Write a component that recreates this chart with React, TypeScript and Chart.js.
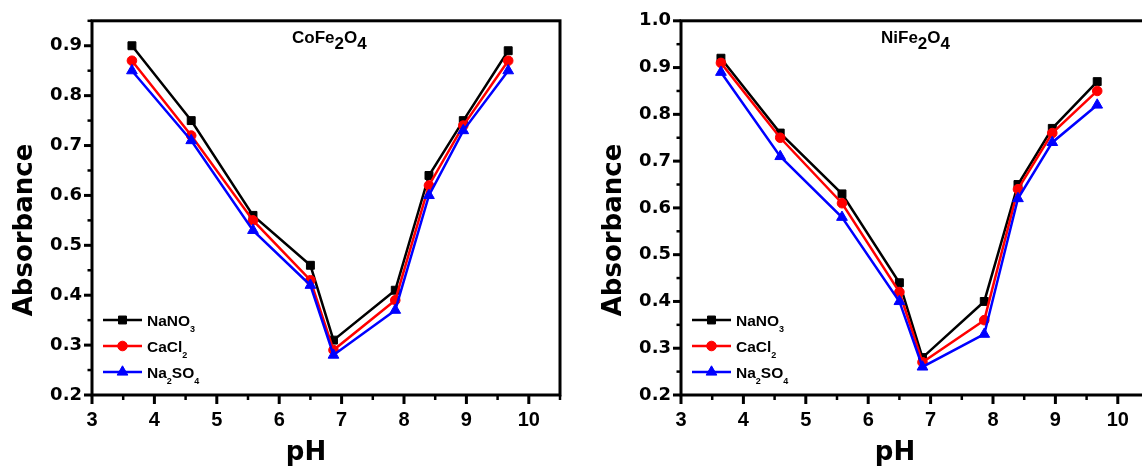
import React, { useEffect, useRef } from "react";
import { Chart, registerables } from "chart.js";

Chart.register(...registerables);

// ---------- data ----------
const PH = [3.64, 4.59, 5.58, 6.5, 6.87, 7.86, 8.4, 8.95, 9.67];
const SERIES_NAMES = ["NaNO3", "CaCl2", "Na2SO4"];
const SERIES_COLORS = ["#000000", "#ff0000", "#0000ff"];
const SERIES_STYLES = ["rect", "circle", "triangle"];

const CO_TITLE = "CoFe2O4";
const CO_NANO3 = [0.9, 0.75, 0.56, 0.46, 0.31, 0.41, 0.64, 0.75, 0.89];
const CO_CACL2 = [0.87, 0.72, 0.55, 0.43, 0.29, 0.39, 0.62, 0.74, 0.87];
const CO_NA2SO4 = [0.85, 0.71, 0.53, 0.42, 0.28, 0.37, 0.6, 0.73, 0.85];

const NI_TITLE = "NiFe2O4";
const NI_NANO3 = [0.92, 0.76, 0.63, 0.44, 0.28, 0.4, 0.65, 0.77, 0.87];
const NI_CACL2 = [0.91, 0.75, 0.61, 0.42, 0.27, 0.36, 0.64, 0.76, 0.85];
const NI_NA2SO4 = [0.89, 0.71, 0.58, 0.4, 0.26, 0.33, 0.62, 0.74, 0.82];

const X_MIN = 3;
const X_MAX = 10.5;
const Y_MIN = 0.2;
const CO_Y_MAX = 0.95;
const NI_Y_MAX = 1.0;
const X_TITLE = "pH";
const Y_TITLE = "Absorbance";

// ---------- helpers ----------
const SANS = "'Liberation Sans', Arial, sans-serif";
const WIDE = "'DejaVu Sans', sans-serif";

function parseRich(s: string): [string, boolean][] {
  const out: [string, boolean][] = [];
  const parts = s.match(/(\d+|\D+)/g) || [];
  for (const p of parts) out.push([p, /\d/.test(p)]);
  return out;
}

function drawRich(
  ctx: CanvasRenderingContext2D,
  text: string,
  x: number,
  y: number,
  size: number,
  subSize: number,
  subDy: number
) {
  let cx = x;
  ctx.textAlign = "left";
  ctx.textBaseline = "alphabetic";
  for (const [t, sub] of parseRich(text)) {
    ctx.font = `bold ${sub ? subSize : size}px ${SANS}`;
    ctx.fillText(t, cx, sub ? y + subDy : y);
    cx += ctx.measureText(t).width;
  }
}

function drawMarker(
  ctx: CanvasRenderingContext2D,
  style: string,
  x: number,
  y: number,
  r: number,
  color: string
) {
  ctx.save();
  ctx.fillStyle = color;
  ctx.strokeStyle = color;
  ctx.lineWidth = 1;
  ctx.beginPath();
  if (style === "rect") {
    const s = r * Math.SQRT1_2;
    ctx.rect(x - s, y - s, 2 * s, 2 * s);
  } else if (style === "circle") {
    ctx.arc(x, y, r, 0, Math.PI * 2);
  } else {
    let rad = 0;
    ctx.moveTo(x + Math.sin(rad) * r, y - Math.cos(rad) * r);
    rad += (2 * Math.PI) / 3;
    ctx.lineTo(x + Math.sin(rad) * r, y - Math.cos(rad) * r);
    rad += (2 * Math.PI) / 3;
    ctx.lineTo(x + Math.sin(rad) * r, y - Math.cos(rad) * r);
    ctx.closePath();
  }
  ctx.fill();
  ctx.stroke();
  ctx.restore();
}

const RADII = [5.6, 4.8, 6.2];

type PanelProps = {
  pageLeft: number;
  axisWidth: number;
  plotRight: number;
  title: string;
  series: number[][];
  yMax: number;
};

const W = 580;
const H = 467;
const PLOT_TOP = 17;
const PLOT_BOTTOM = 395;

function Panel({ pageLeft, axisWidth, plotRight, title, series, yMax }: PanelProps) {
  const ref = useRef<HTMLCanvasElement>(null);

  useEffect(() => {
    if (!ref.current) return;

    const decor = {
      id: "decor",
      afterDraw(chart: any) {
        const ctx: CanvasRenderingContext2D = chart.ctx;
        const a = chart.chartArea;
        const xs = chart.scales.x;
        const ys = chart.scales.y;
        ctx.save();
        ctx.strokeStyle = "#000";
        ctx.fillStyle = "#000";

        // ticks (outward)
        ctx.lineCap = "butt";
        for (let i = 0; X_MIN + i * 0.5 <= X_MAX + 1e-9; i++) {
          const v = X_MIN + i * 0.5;
          const major = i % 2 === 0;
          const px = xs.getPixelForValue(v);
          ctx.lineWidth = major ? 3 : 2.5;
          ctx.beginPath();
          ctx.moveTo(px, a.bottom);
          ctx.lineTo(px, a.bottom + (major ? 9 : 5));
          ctx.stroke();
        }
        for (let i = 0; Y_MIN + i * 0.05 <= yMax + 1e-9; i++) {
          const v = Y_MIN + i * 0.05;
          const major = i % 2 === 0;
          const py = ys.getPixelForValue(v);
          ctx.lineWidth = major ? 3 : 2.5;
          ctx.beginPath();
          ctx.moveTo(a.left, py);
          ctx.lineTo(a.left - (major ? 8 : 4.5), py);
          ctx.stroke();
        }

        // frame
        ctx.lineWidth = 3;
        ctx.strokeRect(a.left, a.top, a.right - a.left, a.bottom - a.top);

        // axis titles
        ctx.font = `bold 26px ${WIDE}`;
        ctx.textAlign = "center";
        ctx.textBaseline = "alphabetic";
        ctx.fillText(X_TITLE, a.left + 214, 460);
        ctx.save();
        ctx.translate(a.left - 69 + 9, 230);
        ctx.rotate(-Math.PI / 2);
        ctx.fillText(Y_TITLE, 0, 0);
        ctx.restore();

        // panel title
        drawRich(ctx, title, a.left + 200, 42.5, 17, 17, 6);

        // legend
        const rows = [320, 346, 372];
        chart.data.datasets.forEach((ds: any, i: number) => {
          const y = rows[i];
          const x0 = a.left + 11;
          const x1 = a.left + 50;
          ctx.strokeStyle = SERIES_COLORS[i];
          ctx.lineWidth = 2.5;
          ctx.beginPath();
          ctx.moveTo(x0, y);
          ctx.lineTo(x1, y);
          ctx.stroke();
          drawMarker(ctx, SERIES_STYLES[i], (x0 + x1) / 2, y, RADII[i], SERIES_COLORS[i]);
          ctx.fillStyle = "#000";
          drawRich(ctx, ds.label, a.left + 55, y + 5.5, 15.5, 9, 6);
        });
        ctx.restore();
      },
    };

    const chart = new Chart(ref.current, {
      type: "line",
      data: {
        datasets: series.map((vals, i) => ({
          label: SERIES_NAMES[i],
          data: PH.map((x, j) => ({ x, y: vals[j] })),
          borderColor: SERIES_COLORS[i],
          backgroundColor: SERIES_COLORS[i],
          pointBackgroundColor: SERIES_COLORS[i],
          pointBorderColor: SERIES_COLORS[i],
          pointStyle: SERIES_STYLES[i] as any,
          pointRadius: RADII[i],
          pointBorderWidth: 1,
          borderWidth: 2.5,
          tension: 0,
          order: 3 - i,
        })),
      },
      options: {
        responsive: false,
        animation: false,
        events: [],
        layout: { padding: { top: PLOT_TOP, right: W - plotRight, left: 0, bottom: 0 } },
        plugins: {
          legend: { display: false },
          tooltip: { enabled: false },
          title: { display: false },
        },
        scales: {
          x: {
            type: "linear",
            min: X_MIN,
            max: X_MAX,
            grid: { display: false, drawTicks: false },
            border: { display: false },
            ticks: {
              stepSize: 1,
              includeBounds: false,
              padding: 13,
              color: "#000",
              maxRotation: 0,
              autoSkip: false,
              font: { family: SANS, weight: "bold", size: 20 },
              callback: (v: any) => {
                const n = Number(v);
                return Math.abs(n - Math.round(n)) < 1e-6 ? String(Math.round(n)) : "";
              },
            },
            afterFit: (s: any) => {
              s.height = H - PLOT_BOTTOM;
            },
          },
          y: {
            type: "linear",
            min: Y_MIN,
            max: yMax,
            grid: { display: false, drawTicks: false },
            border: { display: false },
            ticks: {
              stepSize: 0.1,
              includeBounds: false,
              padding: 10,
              color: "#000",
              autoSkip: false,
              font: { family: WIDE, weight: "bold", size: 18 },
              callback: (v: any) => {
                const n = Number(v);
                const r = Math.round(n * 10) / 10;
                return Math.abs(n - r) < 1e-6 ? r.toFixed(1) : "";
              },
            },
            afterFit: (s: any) => {
              s.width = axisWidth;
            },
          },
        },
      },
      plugins: [decor],
    } as any);

    return () => chart.destroy();
  }, [axisWidth, plotRight, title, series, yMax]);

  return (
    <canvas
      ref={ref}
      width={W}
      height={H}
      style={{ position: "absolute", left: pageLeft, top: 0, width: W, height: H, display: "block" }}
    />
  );
}

export default function App() {
  return (
    <div
      style={{
        position: "fixed",
        left: 0,
        top: 0,
        width: 1142,
        height: 467,
        overflow: "hidden",
        background: "#ffffff",
      }}
    >
      <Panel
        pageLeft={0}
        axisWidth={92}
        plotRight={560}
        title={CO_TITLE}
        series={[CO_NANO3, CO_CACL2, CO_NA2SO4]}
        yMax={CO_Y_MAX}
      />
      <Panel
        pageLeft={580}
        axisWidth={101}
        plotRight={569}
        title={NI_TITLE}
        series={[NI_NANO3, NI_CACL2, NI_NA2SO4]}
        yMax={NI_Y_MAX}
      />
    </div>
  );
}
